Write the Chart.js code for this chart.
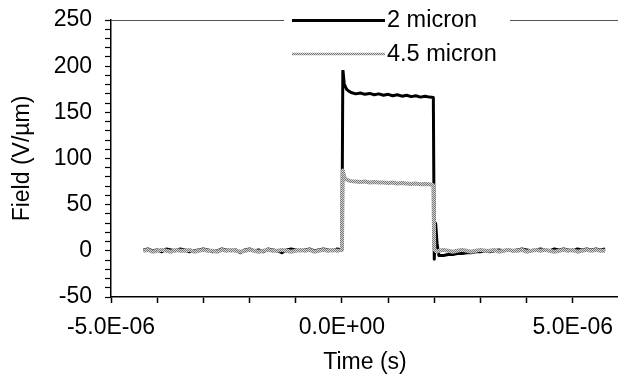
<!DOCTYPE html>
<html>
<head>
<meta charset="utf-8">
<script src="https://cdn.jsdelivr.net/npm/chart.js@4/dist/chart.umd.min.js"></script>
<style>
  html, body { margin: 0; padding: 0; background: #fff; overflow: hidden; }
  canvas { display: block; }
</style>
</head>
<body>
<canvas id="fieldChart" width="620" height="377"></canvas>
<script>
// ── Field vs time ───────────────────────────────
const timeUs = [
  -4.3,-4.2,-4.1,-4.0,-3.9,-3.8,-3.7,-3.6,-3.5,-3.4,-3.3,-3.2,-3.1,-3.0,-2.9,-2.8,-2.7,-2.6,-2.5,-2.4,-2.3,-2.2,
  -2.1,-2.0,-1.9,-1.8,-1.7,-1.6,-1.5,-1.4,-1.3,-1.2,-1.1,-1.0,-0.9,-0.8,-0.7,-0.6,-0.5,-0.4,-0.3,-0.2,-0.1,0.0,
  0.02,0.05,0.1,0.15,0.2,0.3,0.4,0.5,0.6,0.7,0.8,0.9,1.0,1.1,1.2,1.3,1.4,1.5,1.6,1.7,1.8,1.9,1.98,
  2.0,2.03,2.06,2.1,2.2,2.3,2.4,2.5,2.6,2.7,2.8,2.9,3.0,3.1,3.2,3.3,3.4,3.5,3.6,3.7,3.8,3.9,4.0,
  4.1,4.2,4.3,4.4,4.5,4.6,4.7,4.8,4.9,5.0,5.1,5.2,5.3,5.4,5.5,5.6,5.7
];
const field2um = [
  1,2,0,1,-1,2,1,0,2,1, -1,0,1,2,1,-1,0,2,1,0, 1,-2,1,2,0,1,-1,2,1,0, -2,1,2,1,0,1,2,0,1,2, 1,0,2,1,
  197,181,175,173,171.5,170,171,169.5,170.5,169, 170,168.5,169.5,168,169,167.5,168.5,167,168,166.5, 167.5,166.5,166,
  -9,30,8,-5,-5,-4,-4,-3,-3,-2, -2,-1,-1,0,-1,0,1,0,1,0, 1,2,1,0,1,2,1,0,2,1, 2,1,0,2,1,2,1,2,1,2
];
const field45um = [
  0,1,-1,0,1,0,-1,1,0,0, 1,-1,0,1,0,0,-1,1,0,1, 0,-1,0,1,0,-1,0,1,0,0, 1,0,-1,0,1,0,1,-1,0,1, 0,1,0,1,
  87,80,77,76,75.5,75,74.5,75,74,74.5, 74,74,73.5,74,73,73.5,73,72.5,73,72, 72.5,72,71,
  2,0,-1,0,1,0,-1,0,1,0, -1,0,1,0,0,1,-1,0,1,0, 0,1,-1,0,1,0,1,0,-1,0, 1,0,1,-1,0,1,0,1,0,0
];
const seriesNames = ['2 micron', '4.5 micron'];
const xLabelPos = [-5, 0, 5];
const xLabels = ['-5.0E-06', '0.0E+00', '5.0E-06'];

const FONT = "'Liberation Sans', Arial, sans-serif";

// dotted grey stroke like the original
const pc = document.createElement('canvas');
pc.width = 2; pc.height = 2;
const pctx = pc.getContext('2d');
pctx.fillStyle = '#d4d4d4'; pctx.fillRect(0, 0, 2, 2);
pctx.fillStyle = '#7a7a7a'; pctx.fillRect(0, 0, 1, 1); pctx.fillRect(1, 1, 1, 1);
const ctx = document.getElementById('fieldChart').getContext('2d');
const greyPattern = ctx.createPattern(pc, 'repeat');

const toPoints = vals => timeUs.map((t, i) => ({ x: t, y: vals[i] }));
const noPad = s => { s.paddingLeft = 0; s.paddingRight = 0; s.paddingTop = 0; s.paddingBottom = 0; };

const frameLegend = {
  id: 'frameLegend',
  afterDraw(chart) {
    const c = chart.ctx, a = chart.chartArea;
    c.save();
    c.strokeStyle = '#555'; c.lineWidth = 1;
    c.beginPath(); c.moveTo(a.left, a.top + 0.5); c.lineTo(a.right, a.top + 0.5); c.stroke();
    c.fillStyle = '#fff';
    c.fillRect(284, 4, 226, 66);
    c.font = '23.5px ' + FONT;
    c.textBaseline = 'middle';
    c.fillStyle = '#000';
    c.lineWidth = 3; c.strokeStyle = '#000';
    c.beginPath(); c.moveTo(292, 20.5); c.lineTo(385, 20.5); c.stroke();
    c.fillText(seriesNames[0], 387, 21);
    c.lineWidth = 2.5; c.strokeStyle = greyPattern;
    c.beginPath(); c.moveTo(292, 54); c.lineTo(385, 54); c.stroke();
    c.fillText(seriesNames[1], 387, 55);
    c.restore();
  }
};

new Chart(ctx, {
  type: 'line',
  data: {
    datasets: [
      { label: seriesNames[0], data: toPoints(field2um), borderColor: '#000', borderWidth: 3, order: 1 },
      { label: seriesNames[1], data: toPoints(field45um), borderColor: greyPattern, borderWidth: 4, order: 0 }
    ]
  },
  options: {
    responsive: false, animation: false, devicePixelRatio: 1,
    layout: { padding: { left: 0, top: 20, right: 1, bottom: 0 } },
    elements: { point: { radius: 0 }, line: { tension: 0, borderJoinStyle: 'round' } },
    plugins: { legend: { display: false }, tooltip: { enabled: false } },
    scales: {
      x: {
        type: 'linear', min: -5, max: 6,
        afterFit: s => { s.height = 80; noPad(s); },
        ticks: {
          stepSize: 1, autoSkip: false, maxRotation: 0, padding: 11,
          color: '#000', font: { family: FONT, size: 23 },
          callback: v => { const k = xLabelPos.indexOf(Math.round(v)); return k >= 0 ? xLabels[k] : ''; }
        },
        grid: { drawOnChartArea: false, tickLength: 6, tickColor: '#000', tickWidth: 1.5 },
        border: { color: '#000', width: 1.5 },
        title: { display: true, text: 'Time (s)', color: '#000', font: { family: FONT, size: 23 }, padding: { bottom: 1 } }
      },
      y: {
        min: -50, max: 250,
        afterFit: s => { s.width = 111; noPad(s); },
        ticks: {
          stepSize: 10, autoSkip: false, padding: 13,
          color: '#000', font: { family: FONT, size: 23 },
          callback: v => (v % 50 === 0 ? String(v) : '')
        },
        grid: { drawOnChartArea: false, tickLength: 6, tickColor: '#000', tickWidth: 1.2 },
        border: { color: '#000', width: 1.5 },
        title: { display: true, text: 'Field (V/\u00b5m)', color: '#000', font: { family: FONT, size: 23 }, padding: { top: 9 } }
      }
    }
  },
  plugins: [frameLegend]
});
</script>
</body>
</html>
